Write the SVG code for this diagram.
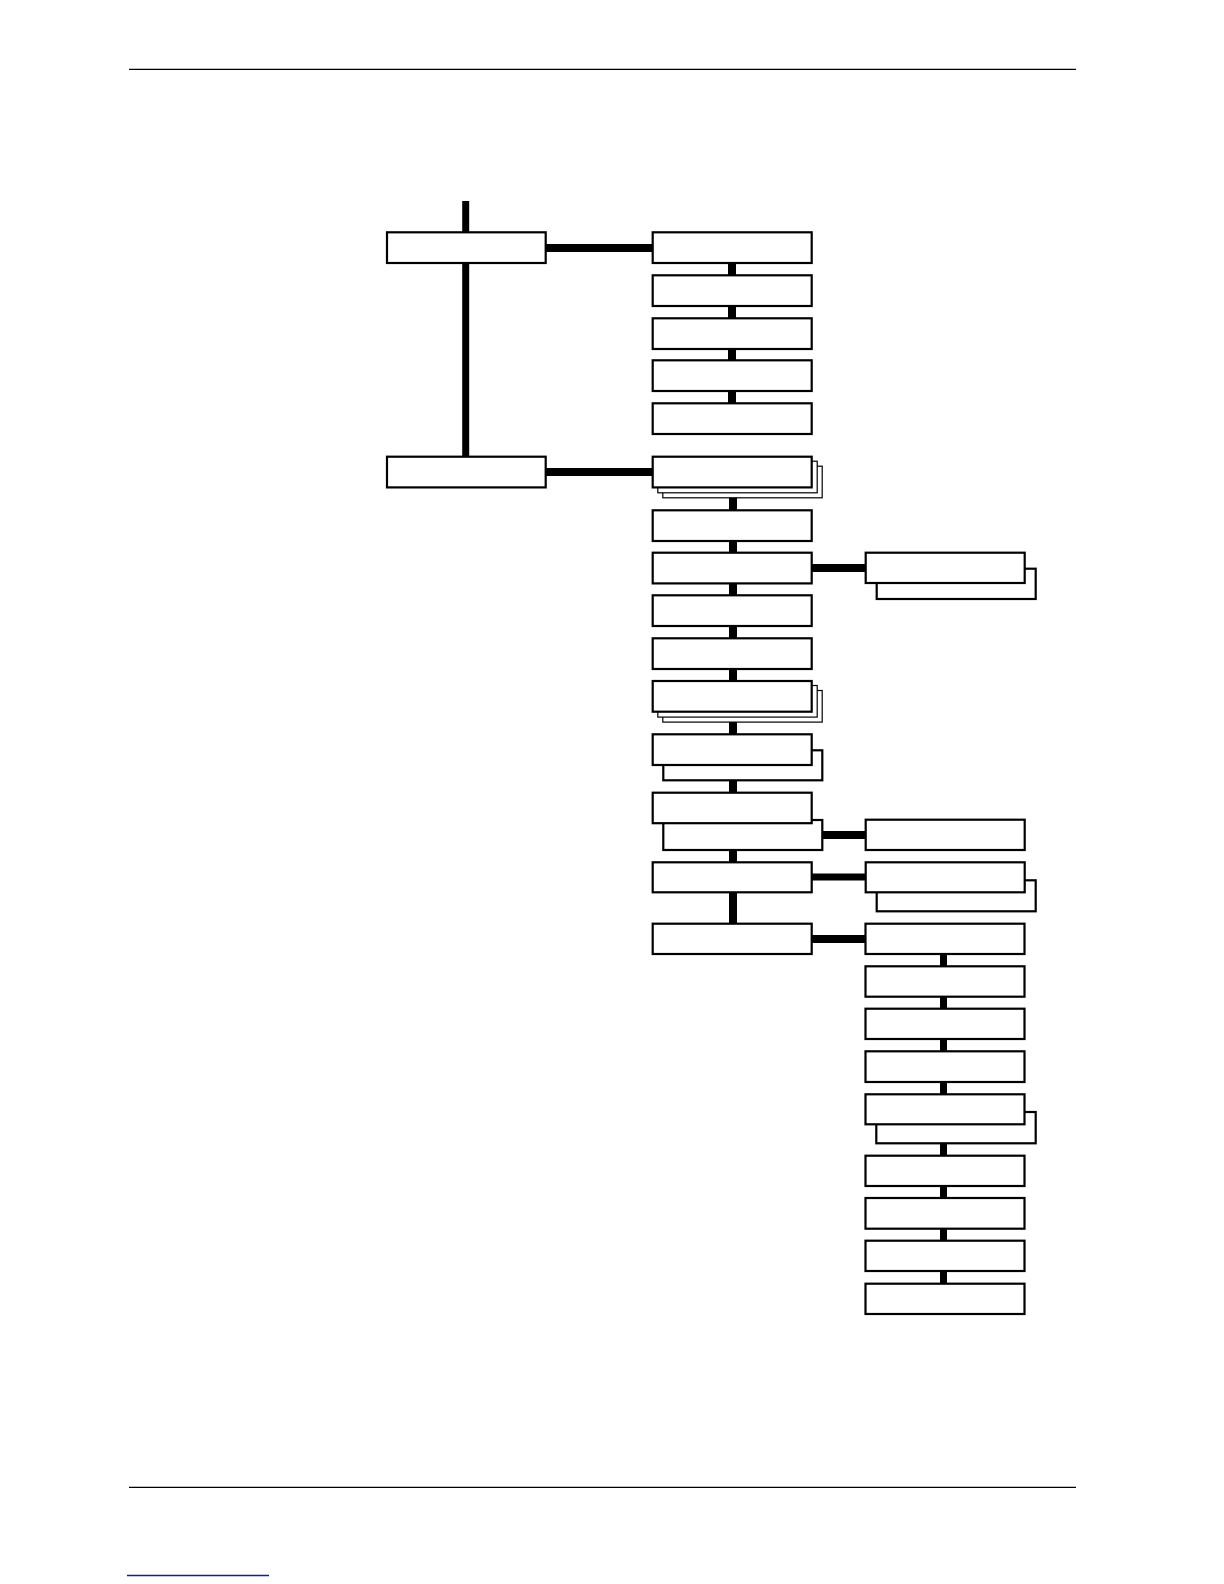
<svg xmlns="http://www.w3.org/2000/svg" width="1224" height="1584" viewBox="0 0 1224 1584">
<style>
.box{fill:#fff;stroke:#000;stroke-width:2.2}
.sh{fill:#fff;stroke:#000;stroke-width:1.2}
.sh2{fill:#fff;stroke:#000;stroke-width:2.2}
.conn{stroke:#000;fill:none}
.rule{stroke:#000;stroke-width:1.3}
</style>
<rect width="1224" height="1584" fill="#fff"/>
<line class="rule" x1="129" y1="69.3" x2="1076" y2="69.3"/>
<line class="rule" x1="129" y1="1487.3" x2="1076" y2="1487.3"/>
<line x1="127" y1="1575.5" x2="269" y2="1575.5" stroke="#16208c" stroke-width="1.4"/>

<g id="connectors">
<line class="conn" stroke-width="7" x1="465.7" y1="201" x2="465.7" y2="457"/>
<line class="conn" stroke-width="8" x1="546" y1="248" x2="653" y2="248"/>
<line class="conn" stroke-width="8" x1="546" y1="472" x2="653" y2="472"/>
<line class="conn" stroke-width="8" x1="732" y1="263" x2="732" y2="404"/>
<line class="conn" stroke-width="8" x1="733" y1="487" x2="733" y2="924"/>
<line class="conn" stroke-width="8" x1="811" y1="568" x2="866" y2="568"/>
<line class="conn" stroke-width="8" x1="822" y1="835" x2="866" y2="835"/>
<line class="conn" stroke-width="7" x1="811" y1="877" x2="866" y2="877"/>
<line class="conn" stroke-width="8" x1="811" y1="939" x2="866" y2="939"/>
<line class="conn" stroke-width="7" x1="943.5" y1="954" x2="943.5" y2="1284"/>
</g>

<g id="nodeA"><rect class="box" x="387" y="232.3" width="158.7" height="30.7"/></g>
<g id="nodeC"><rect class="box" x="387" y="456.7" width="158.7" height="30.7"/></g>

<g id="nodeB1"><rect class="box" x="652.7" y="232.3" width="159" height="30.7"/></g>
<g id="nodeB2"><rect class="box" x="652.7" y="275.3" width="159" height="30.7"/></g>
<g id="nodeB3"><rect class="box" x="652.7" y="318.3" width="159" height="30.7"/></g>
<g id="nodeB4"><rect class="box" x="652.7" y="360.3" width="159" height="30.7"/></g>
<g id="nodeB5"><rect class="box" x="652.7" y="403.3" width="159" height="30.7"/></g>

<g id="nodeD1">
<rect class="sh" x="662.8" y="466.2" width="159.4" height="31.6"/>
<rect class="sh" x="657.8" y="461.2" width="159.4" height="31.6"/>
<rect class="box" x="652.7" y="456.7" width="159" height="30.7"/>
</g>
<g id="nodeD2"><rect class="box" x="652.7" y="510.3" width="159" height="30.7"/></g>
<g id="nodeD3"><rect class="box" x="652.7" y="552.7" width="159" height="30.7"/></g>
<g id="nodeD4"><rect class="box" x="652.7" y="595.3" width="159" height="30.7"/></g>
<g id="nodeD5"><rect class="box" x="652.7" y="638.3" width="159" height="30.7"/></g>
<g id="nodeD6">
<rect class="sh" x="662.8" y="690.5" width="159.4" height="31.6"/>
<rect class="sh" x="657.8" y="685.5" width="159.4" height="31.6"/>
<rect class="box" x="652.7" y="681" width="159" height="30.7"/>
</g>
<g id="nodeD7">
<rect class="sh2" x="663.3" y="750.3" width="159" height="30"/>
<rect class="box" x="652.7" y="734.3" width="159" height="30.7"/>
</g>
<g id="nodeD8">
<rect class="sh2" x="663.3" y="820" width="159" height="30"/>
<rect class="box" x="652.7" y="792.7" width="159" height="30.5"/>
</g>
<g id="nodeD9"><rect class="box" x="652.7" y="862.3" width="159" height="30"/></g>
<g id="nodeD10"><rect class="box" x="652.7" y="923.7" width="159" height="30.3"/></g>

<g id="nodeE1">
<rect class="sh2" x="876.7" y="568.7" width="159" height="30.3"/>
<rect class="box" x="865.7" y="552.7" width="159" height="30.3"/>
</g>
<g id="nodeF1"><rect class="box" x="865.7" y="819.7" width="159" height="30.3"/></g>
<g id="nodeF2">
<rect class="sh2" x="876.7" y="880.3" width="159" height="31"/>
<rect class="box" x="865.7" y="862.3" width="159" height="30"/>
</g>

<g id="nodeG1"><rect class="box" x="865.5" y="923.7" width="159" height="30.3"/></g>
<g id="nodeG2"><rect class="box" x="865.5" y="966.3" width="159" height="30.4"/></g>
<g id="nodeG3"><rect class="box" x="865.5" y="1008.7" width="159" height="30.3"/></g>
<g id="nodeG4"><rect class="box" x="865.5" y="1051.3" width="159" height="30.7"/></g>
<g id="nodeG5">
<rect class="sh2" x="876.3" y="1112" width="159.4" height="31.3"/>
<rect class="box" x="865.5" y="1094.3" width="159" height="30"/>
</g>
<g id="nodeG6"><rect class="box" x="865.5" y="1155.7" width="159" height="30.3"/></g>
<g id="nodeG7"><rect class="box" x="865.5" y="1198" width="159" height="30.7"/></g>
<g id="nodeG8"><rect class="box" x="865.5" y="1240.7" width="159" height="30.3"/></g>
<g id="nodeG9"><rect class="box" x="865.5" y="1283.7" width="159" height="30.3"/></g>
</svg>
